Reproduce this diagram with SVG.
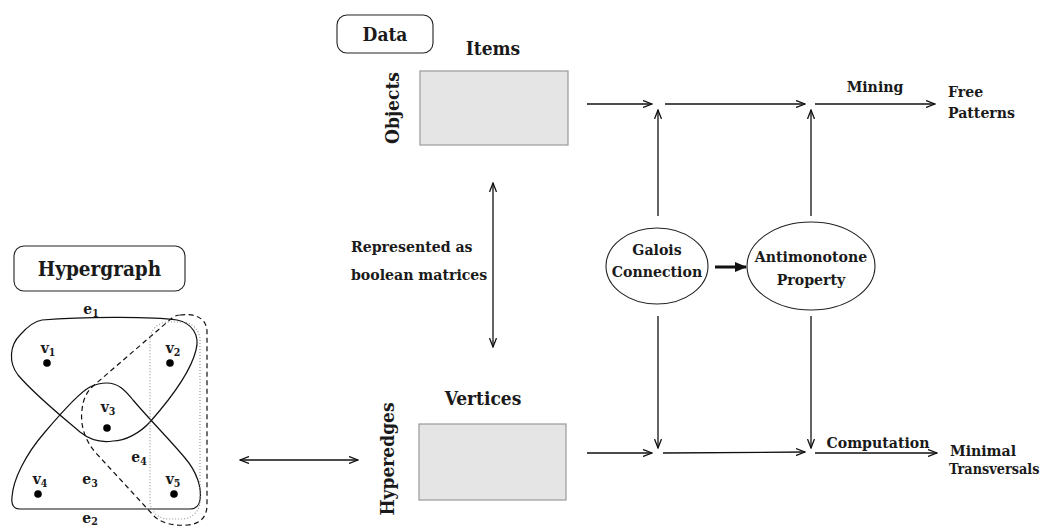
<svg xmlns="http://www.w3.org/2000/svg" width="1047" height="527" viewBox="0 0 1047 527">
<style>
.t{font-family:"DejaVu Serif Condensed","DejaVu Serif",serif;font-stretch:condensed;font-weight:bold;font-size:15.7px;fill:#1a1a1a}
.big{font-size:19px}
.lab{font-size:15.5px}
.sub{font-size:10.5px}
.m{text-anchor:middle}
.box{fill:#fff;stroke:#222;stroke-width:1.1}
.mat{fill:#e5e5e5;stroke:#999;stroke-width:1.2}
.ell{fill:#fff;stroke:#222;stroke-width:1.1}
.edge{fill:none;stroke:#111;stroke-width:1.2}
.dash{fill:none;stroke:#111;stroke-width:1.2;stroke-dasharray:5 3.5}
.dot{fill:none;stroke:#999;stroke-width:1.2;stroke-dasharray:1 2}
.c{fill:none;stroke:#111;stroke-width:1.3}
.arr{marker-end:url(#open)}
.dbl{marker-end:url(#open);marker-start:url(#open)}
</style>
<defs>
<marker id="open" viewBox="0 0 10 8" refX="9" refY="4" markerWidth="10" markerHeight="8" markerUnits="userSpaceOnUse" orient="auto-start-reverse">
<path d="M0,0.5 L9,4 L0,7.5" fill="none" stroke="#111" stroke-width="1.3"/>
</marker>
<marker id="solid" viewBox="0 0 12 10" refX="11" refY="5" markerWidth="12" markerHeight="10" markerUnits="userSpaceOnUse" orient="auto">
<path d="M0,0 L12,5 L0,10 Z" fill="#111"/>
</marker>
</defs>

<g id="hypergraph-title">
<rect class="box" x="14" y="246" width="171" height="45" rx="10"/>
<text class="t big m" x="99.5" y="276" style="font-size:20.5px">Hypergraph</text>
</g>

<g id="hypergraph">
<path id="e1" class="edge" d="M 42,320 C 80,317 150,316 177,320 C 192,323 200,335 196,350 C 190,375 165,405 150,422 C 140,433 125,441 113,441 C 100,443 90,440 80,432 C 60,415 35,395 18,375 C 8,362 10,345 20,335 C 28,326 35,321 42,320 Z"/>
<path id="e2" class="edge" d="M 107,383 C 118,383 125,390 133,400 C 150,420 170,440 185,458 C 197,472 202,488 200,500 C 199,506 196,509 190,509 L 20,509 C 14,509 11,505 12,497 C 13,480 25,455 45,432 C 62,412 80,392 90,387 C 96,384 101,383 107,383 Z"/>
<path id="e3" class="dash" d="M 180,315 C 195,313 207,318 207,332 L 207,505 C 207,517 200,524 188,525 C 175,526 163,524 155,517 L 95,452 C 85,440 80,425 82,410 C 83,400 86,393 92,387 L 172,318 C 175,316 177,315 180,315 Z"/>
<rect id="e4" class="dot" x="150" y="322" width="50" height="197" rx="18"/>
<circle cx="47" cy="363" r="3.8" fill="#000"/>
<circle cx="170" cy="363" r="3.8" fill="#000"/>
<circle cx="107" cy="428" r="3.8" fill="#000"/>
<circle cx="38" cy="494" r="3.8" fill="#000"/>
<circle cx="174" cy="494" r="3.8" fill="#000"/>
<text class="t lab m" x="91" y="314">e<tspan class="sub" dy="3">1</tspan></text>
<text class="t lab m" x="48" y="353">v<tspan class="sub" dy="3">1</tspan></text>
<text class="t lab m" x="173" y="353">v<tspan class="sub" dy="3">2</tspan></text>
<text class="t lab m" x="108" y="412">v<tspan class="sub" dy="3">3</tspan></text>
<text class="t lab m" x="40" y="484">v<tspan class="sub" dy="3">4</tspan></text>
<text class="t lab m" x="173" y="484">v<tspan class="sub" dy="3">5</tspan></text>
<text class="t lab m" x="90" y="484">e<tspan class="sub" dy="3">3</tspan></text>
<text class="t lab m" x="139" y="462">e<tspan class="sub" dy="3">4</tspan></text>
<text class="t lab m" x="90" y="523">e<tspan class="sub" dy="2">2</tspan></text>
</g>

<g id="data-title">
<rect class="box" x="337" y="15" width="96" height="38" rx="10"/>
<text class="t big m" x="385" y="41">Data</text>
</g>

<g id="objects-matrix">
<text class="t big m" x="493" y="55">Items</text>
<text class="t big m" transform="translate(399,108) rotate(-90)">Objects</text>
<rect class="mat" x="420" y="71" width="148" height="74"/>
</g>

<g id="hyperedges-matrix">
<text class="t big m" x="483" y="405">Vertices</text>
<text class="t big m" transform="translate(394,459) rotate(-90)">Hyperedges</text>
<rect class="mat" x="419" y="424" width="147" height="76"/>
</g>

<g id="represented-label">
<text class="t" x="351" y="252">Represented as</text>
<text class="t" x="351" y="280">boolean matrices</text>
</g>

<g id="galois">
<ellipse class="ell" cx="657" cy="266" rx="51" ry="38"/>
<text class="t m" x="657" y="255">Galois</text>
<text class="t m" x="657" y="277">Connection</text>
</g>

<g id="antimonotone">
<ellipse class="ell" cx="811" cy="266" rx="64" ry="44"/>
<text class="t m" x="811" y="262">Antimonotone</text>
<text class="t m" x="811" y="285">Property</text>
</g>

<g id="free-patterns">
<text class="t" x="948" y="97">Free</text>
<text class="t" x="948" y="118">Patterns</text>
</g>

<g id="minimal-transversals">
<text class="t" x="950" y="456">Minimal</text>
<text class="t" x="949" y="474" style="font-size:14.3px">Transversals</text>
</g>

<g id="connectors">
<line class="c arr" x1="587" y1="104" x2="652" y2="104"/>
<line class="c arr" x1="665" y1="104" x2="805" y2="104"/>
<line class="c arr" x1="815" y1="104" x2="935" y2="104"/>
<line class="c arr" x1="658" y1="216" x2="658" y2="110"/>
<line class="c arr" x1="811" y1="216" x2="811" y2="110"/>
<line class="c arr" x1="658" y1="316" x2="658" y2="448"/>
<line class="c arr" x1="811" y1="316" x2="811" y2="448"/>
<line class="c arr" x1="587" y1="453" x2="652" y2="453"/>
<line class="c arr" x1="663" y1="453" x2="805" y2="452"/>
<line class="c arr" x1="815" y1="453" x2="937" y2="453"/>
<line class="c dbl" x1="240" y1="460" x2="358" y2="460"/>
<line class="c dbl" x1="493" y1="183" x2="493" y2="347"/>
<line x1="715" y1="267" x2="746" y2="267" stroke="#111" stroke-width="3" marker-end="url(#solid)"/>
<text class="t m" x="875" y="92">Mining</text>
<text class="t m" x="878" y="448">Computation</text>
</g>
</svg>
